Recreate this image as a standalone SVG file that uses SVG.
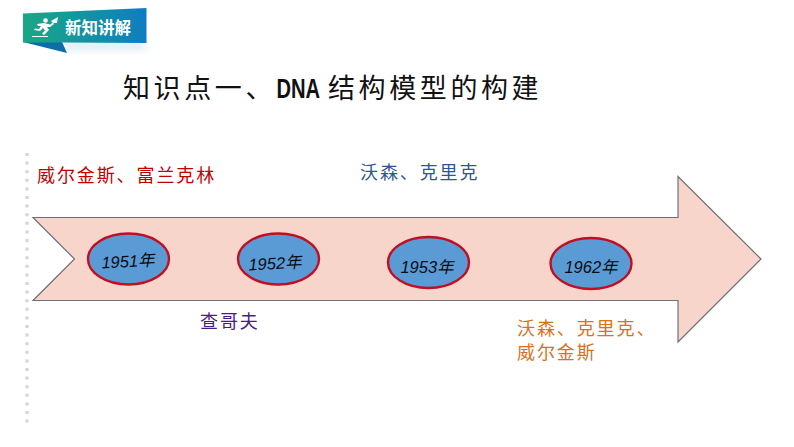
<svg xmlns="http://www.w3.org/2000/svg" width="794" height="447" viewBox="0 0 794 447">
<style>
text{font-family:"Noto Sans CJK SC","Noto Sans",sans-serif}
.yr{font-family:"Liberation Sans","Noto Sans CJK SC",sans-serif;font-size:16.5px;font-style:italic;fill:#0a0a14;text-anchor:middle}
.el{fill:#5b9bd5;stroke:#c00f22;stroke-width:2.4}
.lb{font-size:18px;letter-spacing:1.9px}
.tt{font-size:27px;letter-spacing:3.6px;fill:#111}
</style>
<defs>
<linearGradient id="g" x1="0" y1="0" x2="1" y2="0"><stop offset="0" stop-color="#1aa883"/><stop offset="1" stop-color="#0e7dc2"/></linearGradient>
<filter id="b" x="-20%" y="-50%" width="140%" height="200%"><feGaussianBlur stdDeviation="4"/></filter>
</defs>
<rect width="794" height="447" fill="#fff"/>
<line x1="27" y1="153" x2="27" y2="424" stroke="#d8d8d8" stroke-width="3.500" stroke-dasharray="3 5.600"/>
<g id="banner">
<path d="M40 42H146V50H70Z" fill="#b9dcea" opacity=".55" filter="url(#b)"/>
<path d="M23 42L67 53L62 42Z" fill="#0c6ea6"/>
<path d="M23 13.500L146.500 8V43L62 42.500H23Z" fill="url(#g)"/>
<circle cx="45.500" cy="20.500" r="2.300" fill="#fff"/>
<path d="M37 24L44 23L50 24.500L53 22.500L54 24L50 27L47 27L49 30L44 35L42 33.500L45 30.500L43 28L40 31L34 30L35 28.500L39 29L41 26L38 26Z M51 21L58 17L57 23L53 23Z M32 36H48V37H32Z" fill="#fff"/>
<text x="65" y="33.500" font-size="16.500" font-weight="700" fill="#fff">新知讲解</text>
</g>
<g id="title">
<text class="tt" x="123" y="98">知识点一、</text>
<text x="0" y="0" font-size="28" font-weight="700" fill="#111" transform="translate(276.500 98) scale(.72 1)" style="font-family:'Liberation Sans',sans-serif">DNA</text>
<text class="tt" x="328" y="98">结构模型的构建</text>
</g>
<g id="arrow"><path d="M33 217.500L74.500 259L33 300.500H678V342L761 259L678 176.500V217.500Z" fill="#f8d5ca" stroke="#6f6f78" stroke-width="1.200"/></g>
<g id="n1951"><ellipse class="el" cx="128.500" cy="259" rx="40.500" ry="25.500"/><text class="yr" x="128" y="267" transform="rotate(-3 128 262)">1951年</text></g>
<g id="n1952"><ellipse class="el" cx="278.500" cy="259" rx="40.500" ry="25.500"/><text class="yr" x="275" y="269" transform="rotate(-3 275 264)">1952年</text></g>
<g id="n1953"><ellipse class="el" cx="428.500" cy="262.500" rx="40.500" ry="25.500"/><text class="yr" x="427" y="272.500">1953年</text></g>
<g id="n1962"><ellipse class="el" cx="591" cy="263.500" rx="40.500" ry="25.500"/><text class="yr" x="591" y="272.500">1962年</text></g>
<g id="labels">
<text class="lb" x="37" y="181.500" fill="#c00000">威尔金斯、富兰克林</text>
<text class="lb" x="360" y="179" fill="#2f5597">沃森、克里克</text>
<text class="lb" x="200" y="327.500" fill="#4b1a8c">查哥夫</text>
<text class="lb" x="517" y="334.500" fill="#d9711c">沃森、克里克、</text>
<text class="lb" x="517" y="358.500" fill="#d9711c">威尔金斯</text>
</g>
</svg>
